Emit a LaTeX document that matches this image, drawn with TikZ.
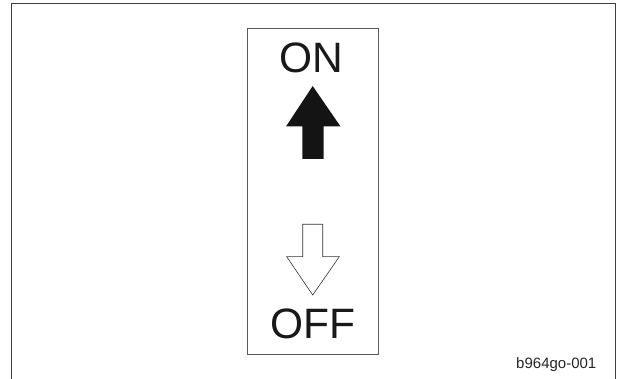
\documentclass[tikz,border=0pt]{standalone}
\usepackage{fontspec}
\setmainfont{Liberation Sans}
\begin{document}
\begin{tikzpicture}[x=1pt,y=-1pt,
  frame/.style={draw=black!75,line width=0.9pt},
  panel/.style={draw=black!65,line width=0.8pt},
  bigtext/.style={font=\fontsize{42.5}{42}\selectfont,inner sep=0pt,anchor=base,text=black!90},
  tag/.style={font=\fontsize{15}{16}\selectfont,inner sep=0pt,anchor=base east,text=black!85}]
\useasboundingbox (0,0) rectangle (618,379);
% outer frame (open at the bottom)
\draw[frame] (11,379) -- (11,3) -- (615,3) -- (615,379);
% switch panel
\draw[panel] (247.3,28.5) rectangle (378,354);
\node[bigtext] (on) at (311.8,73) {ON};
\node[bigtext] (off) at (312.5,338) {OFF};
% filled up arrow
\fill[black!92] (312.7,86) -- (340.5,126.5) -- (323.5,126.5) -- (323.5,159) -- (302.3,159) -- (302.3,126.5) -- (286,126.5) -- cycle;
% outline down arrow
\draw[black!80,line width=0.6pt,line join=miter] (302.7,224.3) -- (322.7,224.3) -- (322.7,256.7) -- (339.3,256.7) -- (312.7,295) -- (286.7,256.7) -- (302.7,256.7) -- cycle;
\node[tag] (code) at (596.5,368.3) {b964go-001};
\end{tikzpicture}
\end{document}
